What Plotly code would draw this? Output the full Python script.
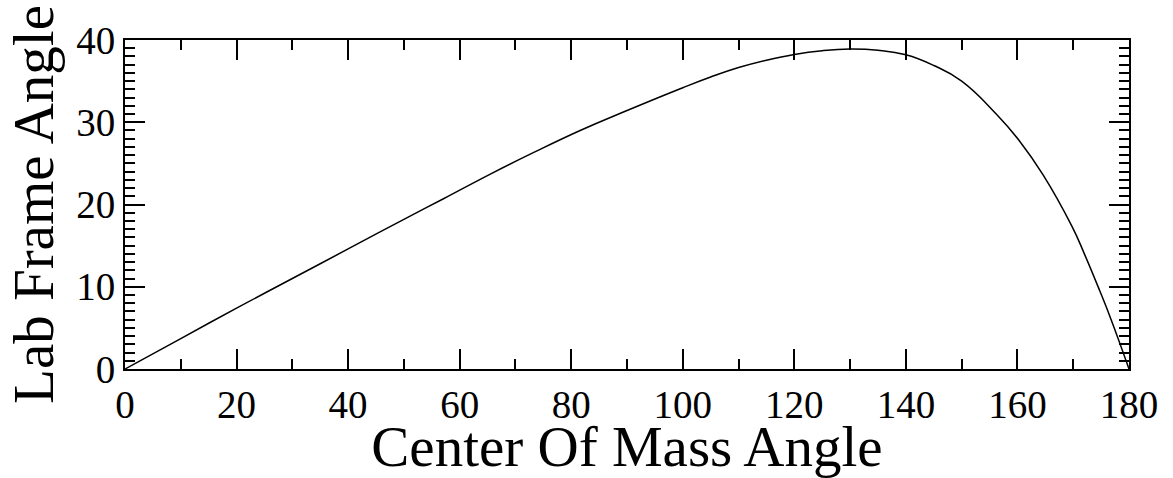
import plotly.graph_objects as go

# Centre-of-mass scattering angle (deg) and the matching lab-frame angle (deg)
cm_angle = [0, 10, 20, 30, 40, 50, 57.1, 65.5, 73.2, 81.6, 89.9, 100, 105,
            110, 115, 120, 125, 130, 135, 140, 145, 150, 156.2, 160.4, 164.6,
            169.8, 172, 174.7, 176.8, 180]
lab_angle = [0, 3.7, 7.4, 11.0, 14.6, 18.2, 20.7, 23.7, 26.3, 29.0, 31.4, 34.2, 35.5,
             36.65, 37.55, 38.25, 38.7, 38.9, 38.75, 38.2, 36.9, 35.0, 31.0, 27.7, 23.6,
             17.3, 14.0, 9.6, 6.0, 0]

x_ticks = [0, 20, 40, 60, 80, 100, 120, 140, 160, 180]
y_ticks = [0, 10, 20, 30, 40]

FONT = "Liberation Serif, Times New Roman, serif"

fig = go.Figure(
    go.Scatter(
        x=cm_angle,
        y=lab_angle,
        mode="lines",
        line=dict(color="black", width=1.5, shape="spline", smoothing=1.3),
        hoverinfo="skip",
    )
)

axis_common = dict(
    showline=True,
    linecolor="black",
    linewidth=2,
    mirror="allticks",
    ticks="inside",
    ticklen=20,
    tickwidth=2,
    tickcolor="black",
    showgrid=False,
    zeroline=False,
    tickfont=dict(family=FONT, size=39, color="black"),
)

fig.update_xaxes(
    **axis_common,
    range=[0, 180],
    tickvals=x_ticks,
    minor=dict(ticks="inside", ticklen=10, tickwidth=2, tickcolor="black", dtick=10, tick0=0),
    title=dict(text="Center Of Mass Angle", font=dict(family=FONT, size=57, color="black"), standoff=0),
)
fig.update_yaxes(
    **axis_common,
    range=[0, 40],
    tickvals=y_ticks,
    minor=dict(ticks="inside", ticklen=10, tickwidth=2, tickcolor="black", dtick=1, tick0=0),
    title=dict(text="Lab Frame Angle", font=dict(family=FONT, size=57, color="black"), standoff=4),
)

fig.update_layout(
    width=1173,
    height=478,
    margin=dict(l=125, r=44, t=40, b=102, pad=0),
    plot_bgcolor="white",
    paper_bgcolor="white",
    showlegend=False,
)

fig.write_html("out.html")
